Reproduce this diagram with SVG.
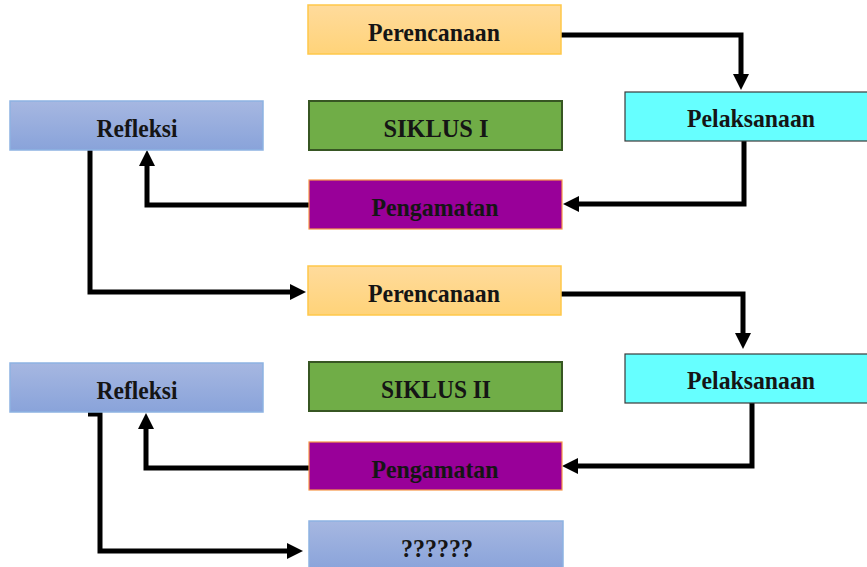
<svg xmlns="http://www.w3.org/2000/svg" width="867" height="567" viewBox="0 0 867 567">
  <defs>
    <linearGradient id="gOrange" x1="0" y1="0" x2="0" y2="1">
      <stop offset="0" stop-color="#FFDB9C"/>
      <stop offset="1" stop-color="#FFD379"/>
    </linearGradient>
    <linearGradient id="gBlue" x1="0" y1="0" x2="0" y2="1">
      <stop offset="0" stop-color="#A6B7E1"/>
      <stop offset="1" stop-color="#89A3DA"/>
    </linearGradient>
    <marker id="arrow" markerUnits="userSpaceOnUse" markerWidth="16" markerHeight="16" viewBox="0 0 16 16" refX="5" refY="8" orient="auto">
      <path d="M0,0 L16,8 L0,16 z" fill="#000"/>
    </marker>
    <style>
      .lbl { font-family: "Liberation Serif", "Times New Roman", serif; font-weight: bold; font-size: 25.5px; fill: #151515; text-anchor: middle; }
      .plan { fill: url(#gOrange); stroke: #FFC84A; stroke-width: 1.5; }
      .exec { fill: #66FFFF; stroke: #3A3A3A; stroke-width: 1.2; }
      .refl { fill: url(#gBlue); stroke: #8DB3E2; stroke-width: 1.5; }
      .cyc { fill: #70AD47; stroke: #375623; stroke-width: 2; }
      .obs { fill: #990099; stroke: #F79646; stroke-width: 1.2; }
      .conn { fill: none; stroke: #000; stroke-width: 5; stroke-linejoin: miter; marker-end: url(#arrow); }
    </style>
  </defs>

  <g id="connectors">
    <path class="conn" d="M561,35 H741 V79"/>
    <path class="conn" d="M744,141 V204 H574"/>
    <path class="conn" d="M309,205 H147 V161"/>
    <path class="conn" d="M90,150 V292 H295"/>
    <path class="conn" d="M561,294 H743 V338"/>
    <path class="conn" d="M752,403 V466 H573"/>
    <path class="conn" d="M309,468 H146 V424"/>
    <path class="conn" d="M88,414 H100 V551 H292"/>
  </g>

  <g id="perencanaan1">
    <rect class="plan" x="308" y="5" width="253" height="49"/>
    <text class="lbl" x="434" y="41" textLength="132" lengthAdjust="spacingAndGlyphs">Perencanaan</text>
  </g>
  <g id="pelaksanaan1">
    <rect class="exec" x="625" y="92" width="252" height="49"/>
    <text class="lbl" x="751" y="127" textLength="128" lengthAdjust="spacingAndGlyphs">Pelaksanaan</text>
  </g>
  <g id="refleksi1">
    <rect class="refl" x="10" y="101" width="253" height="49"/>
    <text class="lbl" x="137" y="137" textLength="81" lengthAdjust="spacingAndGlyphs">Refleksi</text>
  </g>
  <g id="siklus1">
    <rect class="cyc" x="309" y="101" width="253" height="49"/>
    <text class="lbl" x="436" y="137" textLength="105" lengthAdjust="spacingAndGlyphs">SIKLUS I</text>
  </g>
  <g id="pengamatan1">
    <rect class="obs" x="309" y="180" width="253" height="49"/>
    <text class="lbl" x="435" y="216" textLength="127" lengthAdjust="spacingAndGlyphs">Pengamatan</text>
  </g>

  <g id="perencanaan2">
    <rect class="plan" x="308" y="266" width="253" height="49"/>
    <text class="lbl" x="434" y="302" textLength="132" lengthAdjust="spacingAndGlyphs">Perencanaan</text>
  </g>
  <g id="pelaksanaan2">
    <rect class="exec" x="625" y="354" width="252" height="49"/>
    <text class="lbl" x="751" y="389" textLength="128" lengthAdjust="spacingAndGlyphs">Pelaksanaan</text>
  </g>
  <g id="refleksi2">
    <rect class="refl" x="10" y="363" width="253" height="49"/>
    <text class="lbl" x="137" y="399" textLength="81" lengthAdjust="spacingAndGlyphs">Refleksi</text>
  </g>
  <g id="siklus2">
    <rect class="cyc" x="309" y="362" width="253" height="49"/>
    <text class="lbl" x="436" y="398" textLength="110" lengthAdjust="spacingAndGlyphs">SIKLUS II</text>
  </g>
  <g id="pengamatan2">
    <rect class="obs" x="309" y="442" width="253" height="48"/>
    <text class="lbl" x="435" y="478" textLength="127" lengthAdjust="spacingAndGlyphs">Pengamatan</text>
  </g>
  <g id="hasil">
    <rect class="refl" x="309" y="521" width="254" height="50"/>
    <text class="lbl" x="437" y="557" textLength="72" lengthAdjust="spacingAndGlyphs">??????</text>
  </g>
</svg>
